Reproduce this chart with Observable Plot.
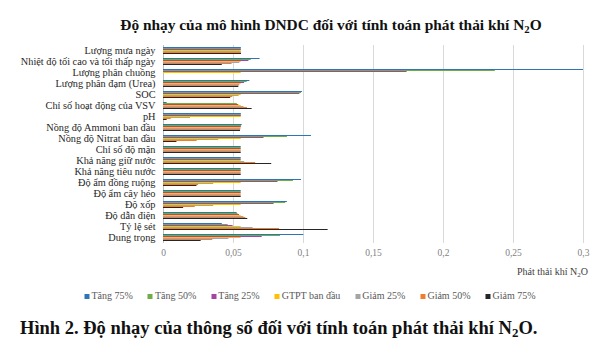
<!DOCTYPE html>
<html>
<head>
<meta charset="utf-8">
<script src="https://cdn.jsdelivr.net/npm/d3@7"></script>
<script src="https://cdn.jsdelivr.net/npm/@observablehq/plot@0.6"></script>
<style>
  html, body { margin: 0; padding: 0; background: #fff; }
  #wrap { position: relative; width: 608px; height: 353px; overflow: hidden; font-family: "Liberation Serif", serif; }
  #title { position: absolute; top: 17px; left: 331px; transform: translateX(-50%); white-space: nowrap; font-weight: bold; font-size: 15.4px; line-height: 15px; color: #111; }
  #chart { position: absolute; top: 0; left: 0; }
  #xlabel { position: absolute; top: 266px; right: 20px; white-space: nowrap; font-size: 10px; line-height: 11px; color: #404040; }
  #legend { position: absolute; top: 291px; left: 310px; transform: translateX(-50%); display: flex; gap: 15px; white-space: nowrap; font-size: 10px; line-height: 10px; color: #595959; }
  #legend .item { display: flex; align-items: center; gap: 2px; }
  #legend .sw { width: 5px; height: 5px; display: inline-block; }
  #caption { position: absolute; top: 319px; left: 20px; white-space: nowrap; font-weight: bold; font-size: 18.5px; line-height: 19px; color: #111; }
  sub { font-size: 0.7em; vertical-align: -0.25em; line-height: 0; }
</style>
</head>
<body>
<div id="wrap">
  <div id="title">Độ nhạy của mô hình DNDC đối với tính toán phát thải khí N<sub>2</sub>O</div>
  <div id="chart"></div>
  <div id="xlabel">Phát thải khí N<sub>2</sub>O</div>
  <div id="legend"></div>
  <div id="caption">Hình 2. Độ nhạy của thông số đối với tính toán phát thải khí N<sub>2</sub>O.</div>
</div>
<script>
const categories = [
  "Lượng mưa ngày",
  "Nhiệt độ tối cao và tối thấp ngày",
  "Lượng phân chuồng",
  "Lượng phân đạm (Urea)",
  "SOC",
  "Chỉ số hoạt động của VSV",
  "pH",
  "Nồng độ Ammoni ban đầu",
  "Nồng độ Nitrat ban đầu",
  "Chỉ số độ mặn",
  "Khả năng giữ nước",
  "Khả năng tiêu nước",
  "Độ ẩm đồng ruộng",
  "Độ ẩm cây héo",
  "Độ xốp",
  "Độ dẫn điện",
  "Tỷ lệ sét",
  "Dung trọng"
];
const series = ["Tăng 75%", "Tăng 50%", "Tăng 25%", "GTPT ban đầu", "Giảm 25%", "Giảm 50%", "Giảm 75%"];
const colors = ["#2E75B6", "#70AD47", "#A446A0", "#FFC000", "#A5A5A5", "#ED7D31", "#262626"];

const tang75 = [0.0556, 0.0690, 0.3000, 0.0617, 0.0993, 0.0026, 0.0556, 0.0562, 0.1057, 0.0555, 0.0555, 0.0555, 0.0986, 0.0555, 0.0885, 0.0526, 0.0420, 0.1002];
const tang50 = [0.0556, 0.0627, 0.2370, 0.0598, 0.0986, 0.0527, 0.0556, 0.0558, 0.0885, 0.0555, 0.0555, 0.0555, 0.0928, 0.0555, 0.0873, 0.0532, 0.0462, 0.0836];
const tang25 = [0.0556, 0.0610, 0.1740, 0.0579, 0.0974, 0.0538, 0.0556, 0.0556, 0.0718, 0.0555, 0.0555, 0.0555, 0.0818, 0.0555, 0.0790, 0.0543, 0.0497, 0.0705];
const gtpt   = [0.0555, 0.0555, 0.0555, 0.0555, 0.0555, 0.0555, 0.0555, 0.0555, 0.0555, 0.0555, 0.0555, 0.0555, 0.0555, 0.0555, 0.0555, 0.0555, 0.0555, 0.0555];
const giam25 = [0.0556, 0.0545, 0.0000, 0.0545, 0.0540, 0.0575, 0.0193, 0.0553, 0.0395, 0.0555, 0.0580, 0.0555, 0.0359, 0.0555, 0.0359, 0.0574, 0.0640, 0.0467];
const giam50 = [0.0556, 0.0490, 0.0000, 0.0540, 0.0495, 0.0600, 0.0055, 0.0551, 0.0240, 0.0555, 0.0658, 0.0555, 0.0251, 0.0555, 0.0227, 0.0588, 0.0829, 0.0352];
const giam75 = [0.0557, 0.0420, 0.0000, 0.0538, 0.0480, 0.0633, 0.0026, 0.0550, 0.0096, 0.0555, 0.0773, 0.0555, 0.0239, 0.0555, 0.0144, 0.0602, 0.1176, 0.0269];

const xTicks = [0, 0.05, 0.1, 0.15, 0.2, 0.25, 0.3];

const valueArrays = [tang75, tang50, tang25, gtpt, giam25, giam50, giam75];
const data = categories.flatMap((c, i) => series.map((s, j) => ({category: c, series: s, value: valueArrays[j][i]})));
const fmt = d => String(d).replace(".", ",");

const chart = Plot.plot({
  width: 608,
  height: 284,
  marginLeft: 163,
  marginRight: 25,
  marginTop: 44,
  marginBottom: 40,
  style: {fontFamily: "Liberation Serif", background: "transparent", overflow: "visible"},
  x: {domain: [0, 0.3]},
  y: {domain: series, axis: null, paddingInner: 0, paddingOuter: 0.5},
  fy: {domain: categories, padding: 0, label: null},
  color: {domain: series, range: colors},
  marks: [
    Plot.gridX(xTicks.slice(1), {stroke: "#d9d9d9", strokeOpacity: 1, strokeWidth: 1}),
    Plot.ruleX([0], {stroke: "#bfbfbf", strokeWidth: 1}),
    Plot.barX(data, {x: "value", y: "series", fy: "category", fill: "series"}),
    Plot.axisX(xTicks, {tickSize: 0, tickPadding: 6, tickFormat: fmt, fill: "#7f7f7f", fontSize: 9.5, label: null}),
    Plot.axisFy({anchor: "left", tickSize: 0, tickPadding: 8, fontSize: 10.3, fill: "#262626", label: null})
  ]
});
document.getElementById("chart").appendChild(chart);

const legend = document.getElementById("legend");
series.forEach((s, j) => {
  const item = document.createElement("span");
  item.className = "item";
  const sw = document.createElement("span");
  sw.className = "sw";
  sw.style.background = colors[j];
  const t = document.createElement("span");
  t.textContent = s;
  item.appendChild(sw);
  item.appendChild(t);
  legend.appendChild(item);
});
</script>
</body>
</html>
